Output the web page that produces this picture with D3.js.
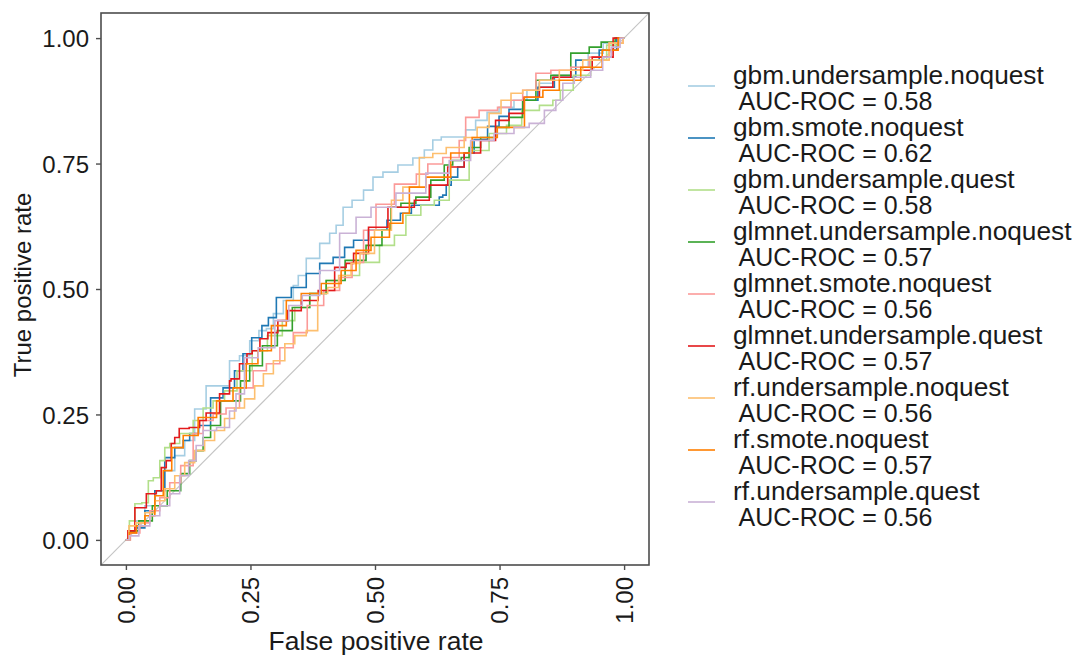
<!DOCTYPE html>
<html>
<head>
<meta charset="utf-8">
<script src="https://cdn.jsdelivr.net/npm/d3@7"></script>
<style>
  body { margin: 0; background: #fff; }
  text { font-family: "Liberation Sans", Arial, sans-serif; fill: #1a1a1a; }
</style>
</head>
<body>
<div id="chart"></div>
<script>
// models, in legend order
var modelNames = ["gbm.undersample.noquest", "gbm.smote.noquest", "gbm.undersample.quest",
  "glmnet.undersample.noquest", "glmnet.smote.noquest", "glmnet.undersample.quest",
  "rf.undersample.noquest", "rf.smote.noquest", "rf.undersample.quest"];
var aucValues = [0.58, 0.62, 0.58, 0.57, 0.56, 0.57, 0.56, 0.57, 0.56];
var axisTicks = [0, 0.25, 0.5, 0.75, 1];

// roc curves: [false positive rate, true positive rate]
var roc_gbm_undersample_noquest = [[0,0],[.014,.018],[.028,.038],[.048,.068],[.068,.098],[.088,.138],[.108,.168],[.128,.198],[.148,.261],[.174,.307],[.198,.307],[.218,.357],[.238,.367],[.259,.397],[.275,.417],[.289,.421],[.303,.451],[.329,.477],[.343,.507],[.349,.527],[.375,.561],[.403,.591],[.415,.611],[.429,.627],[.443,.663],[.465,.677],[.489,.697],[.503,.723],[.529,.733],[.563,.747],[.589,.761],[.609,.777],[.623,.797],[.643,.803],[.675,.803],[.689,.817],[.715,.836],[.735,.852],[.763,.862],[.795,.876],[.815,.896],[.842,.910],[.874,.926],[.914,.942],[.942,.970],[.974,.990],[1,1]];
var roc_gbm_smote_noquest = [[0,0],[.014,.014],[.028,.024],[.048,.058],[.068,.098],[.088,.164],[.108,.184],[.122,.198],[.134,.212],[.158,.228],[.182,.283],[.208,.303],[.228,.337],[.242,.371],[.263,.403],[.283,.427],[.289,.443],[.315,.483],[.349,.503],[.375,.531],[.403,.551],[.429,.563],[.449,.583],[.465,.597],[.509,.617],[.539,.637],[.563,.651],[.583,.667],[.629,.667],[.629,.683],[.643,.687],[.643,.707],[.663,.723],[.669,.743],[.689,.771],[.709,.798],[.743,.824],[.755,.844],[.783,.858],[.810,.876],[.844,.902],[.876,.922],[.930,.956],[.970,.976],[1,1]];
var roc_gbm_undersample_quest = [[0,0],[.014,.038],[.022,.072],[.042,.074],[.048,.118],[.062,.124],[.074,.158],[.082,.184],[.094,.192],[.122,.212],[.148,.238],[.162,.263],[.188,.277],[.208,.297],[.238,.337],[.269,.377],[.299,.407],[.329,.437],[.349,.463],[.389,.491],[.415,.517],[.449,.527],[.489,.553],[.529,.587],[.549,.607],[.575,.647],[.609,.667],[.629,.677],[.669,.717],[.709,.776],[.749,.810],[.779,.826],[.810,.856],[.850,.866],[.864,.876],[.880,.896],[.916,.926],[.950,.956],[.980,.986],[1,1]];
var roc_glmnet_undersample_noquest = [[0,0],[.014,.018],[.038,.038],[.068,.068],[.098,.098],[.122,.132],[.134,.158],[.148,.178],[.162,.204],[.178,.228],[.202,.277],[.222,.277],[.238,.317],[.259,.347],[.289,.387],[.319,.417],[.349,.463],[.389,.491],[.415,.517],[.465,.557],[.499,.587],[.529,.617],[.535,.663],[.569,.671],[.595,.683],[.629,.717],[.649,.747],[.663,.756],[.683,.762],[.695,.782],[.729,.802],[.755,.822],[.783,.842],[.810,.876],[.836,.916],[.870,.926],[.916,.970],[.944,.982],[.964,.992],[1,1]];
var roc_glmnet_smote_noquest = [[0,0],[.018,.014],[.038,.034],[.058,.058],[.078,.084],[.098,.114],[.122,.148],[.148,.212],[.162,.238],[.188,.251],[.214,.263],[.242,.303],[.269,.337],[.295,.351],[.323,.383],[.349,.413],[.379,.467],[.415,.497],[.443,.523],[.465,.553],[.489,.617],[.515,.669],[.563,.709],[.603,.729],[.609,.749],[.663,.762],[.675,.796],[.689,.842],[.729,.856],[.763,.862],[.783,.876],[.810,.896],[.836,.930],[.870,.936],[.916,.942],[.944,.962],[.996,.990],[1,1]];
var roc_glmnet_undersample_quest = [[0,0],[.008,.018],[.028,.064],[.054,.092],[.068,.098],[.074,.144],[.088,.158],[.094,.192],[.102,.204],[.112,.222],[.142,.224],[.154,.238],[.168,.253],[.208,.291],[.208,.317],[.214,.321],[.242,.351],[.244,.371],[.263,.377],[.275,.401],[.295,.413],[.315,.437],[.335,.457],[.369,.477],[.403,.497],[.435,.543],[.449,.551],[.465,.571],[.509,.623],[.543,.663],[.569,.663],[.589,.677],[.629,.707],[.663,.743],[.695,.771],[.729,.796],[.755,.836],[.783,.850],[.816,.882],[.844,.902],[.870,.922],[.916,.936],[.956,.962],[1,1]];
var roc_rf_undersample_noquest = [[0,0],[.012,.028],[.028,.034],[.048,.054],[.068,.078],[.088,.102],[.108,.128],[.128,.154],[.148,.178],[.168,.198],[.188,.218],[.208,.242],[.228,.263],[.248,.281],[.269,.307],[.283,.331],[.309,.357],[.329,.391],[.349,.407],[.375,.417],[.395,.491],[.415,.503],[.439,.527],[.465,.551],[.475,.571],[.523,.617],[.543,.677],[.569,.703],[.609,.762],[.623,.770],[.663,.782],[.695,.802],[.715,.822],[.743,.850],[.763,.876],[.783,.890],[.810,.896],[.850,.916],[.890,.936],[.944,.956],[.996,.990],[1,1]];
var roc_rf_smote_noquest = [[0,0],[.014,.014],[.028,.028],[.048,.048],[.068,.088],[.082,.138],[.102,.184],[.128,.208],[.162,.244],[.202,.277],[.228,.303],[.255,.351],[.275,.377],[.309,.427],[.335,.477],[.369,.491],[.415,.511],[.449,.537],[.475,.577],[.509,.603],[.549,.631],[.563,.651],[.575,.703],[.629,.723],[.675,.771],[.715,.802],[.776,.822],[.824,.882],[.850,.896],[.890,.916],[.936,.942],[.976,.976],[1,1]];
var roc_rf_undersample_quest = [[0,0],[.014,.008],[.038,.028],[.058,.048],[.078,.068],[.098,.092],[.118,.128],[.134,.158],[.148,.188],[.162,.218],[.202,.224],[.214,.257],[.228,.291],[.248,.363],[.283,.383],[.315,.437],[.339,.467],[.369,.487],[.409,.537],[.449,.611],[.475,.643],[.509,.663],[.575,.691],[.629,.731],[.669,.756],[.715,.796],[.763,.810],[.795,.822],[.824,.830],[.856,.856],[.870,.876],[.884,.910],[.916,.922],[.950,.936],[.964,.962],[.984,.982],[1,1]];

var curves = [roc_gbm_undersample_noquest, roc_gbm_smote_noquest, roc_gbm_undersample_quest,
  roc_glmnet_undersample_noquest, roc_glmnet_smote_noquest, roc_glmnet_undersample_quest,
  roc_rf_undersample_noquest, roc_rf_smote_noquest, roc_rf_undersample_quest];

// brewer "Paired"
var palette = ["#a6cee3", "#1f78b4", "#b2df8a", "#33a02c", "#fb9a99", "#e31a1c", "#fdbf6f", "#ff7f00", "#cab2d6"];

var svgWidth = 1075, svgHeight = 655;
var panel = {left: 101, top: 13, right: 649, bottom: 565};

var svg = d3.select("#chart").append("svg")
    .attr("width", svgWidth)
    .attr("height", svgHeight);

// ggplot style 5% expansion on both axes
var x = d3.scaleLinear().domain([-0.05, 1.05]).range([panel.left, panel.right]);
var y = d3.scaleLinear().domain([-0.05, 1.05]).range([panel.bottom, panel.top]);

svg.append("clipPath").attr("id", "clip")
  .append("rect")
    .attr("x", panel.left).attr("y", panel.top)
    .attr("width", panel.right - panel.left).attr("height", panel.bottom - panel.top);

// reference diagonal
svg.append("line")
    .attr("clip-path", "url(#clip)")
    .attr("x1", x(-0.05)).attr("y1", y(-0.05))
    .attr("x2", x(1.05)).attr("y2", y(1.05))
    .attr("stroke", "#c4c4c4")
    .attr("stroke-width", 1.1);

// curves, drawn as stairs like a roc curve (step at the midpoint so the stairs sit on the readings)
var line = d3.line()
    .curve(d3.curveStep)
    .x(d => x(d[0]))
    .y(d => y(d[1]));

svg.append("g").attr("clip-path", "url(#clip)")
  .selectAll("path")
  .data(curves)
  .enter()
  .append("path")
    .attr("d", line)
    .attr("fill", "none")
    .attr("stroke", (d, i) => palette[i])
    .attr("stroke-width", 1.6);

// panel border
svg.append("rect")
    .attr("x", panel.left).attr("y", panel.top)
    .attr("width", panel.right - panel.left).attr("height", panel.bottom - panel.top)
    .attr("fill", "none")
    .attr("stroke", "#4d4d4d")
    .attr("stroke-width", 1.6);

// axes
var xAxis = svg.append("g")
    .attr("transform", "translate(0," + panel.bottom + ")")
    .call(d3.axisBottom(x).tickValues(axisTicks).tickFormat(d3.format(".2f")).tickSize(5).tickSizeOuter(0));
xAxis.select(".domain").remove();
xAxis.selectAll("line").attr("stroke", "#4d4d4d").attr("stroke-width", 1.4);
xAxis.selectAll("text")
    .attr("fill", "#1a1a1a")
    .style("font-size", "24px")
    .attr("text-anchor", "end")
    .attr("dy", "0.35em")
    .attr("x", 0)
    .attr("y", 0)
    .attr("transform", "translate(0,12) rotate(-90)");

var yAxis = svg.append("g")
    .attr("transform", "translate(" + panel.left + ",0)")
    .call(d3.axisLeft(y).tickValues(axisTicks).tickFormat(d3.format(".2f")).tickSize(5).tickSizeOuter(0));
yAxis.select(".domain").remove();
yAxis.selectAll("line").attr("stroke", "#4d4d4d").attr("stroke-width", 1.4);
yAxis.selectAll("text")
    .attr("fill", "#1a1a1a")
    .style("font-size", "24px")
    .attr("x", -12)
    .attr("dy", "0.36em");

// axis titles
svg.append("text")
    .attr("x", (panel.left + panel.right) / 2 + 1)
    .attr("y", 650)
    .attr("text-anchor", "middle")
    .style("font-size", "26.5px")
    .text("False positive rate");

svg.append("text")
    .attr("transform", "translate(31," + ((panel.top + panel.bottom) / 2 - 4) + ") rotate(-90)")
    .attr("text-anchor", "middle")
    .style("font-size", "24px")
    .text("True positive rate");

// legend
var legend = svg.append("g").attr("transform", "translate(688,86)");
var item = legend.selectAll("g")
  .data(modelNames)
  .enter()
  .append("g")
    .attr("transform", (d, i) => "translate(0," + (i * 52) + ")");

item.append("line")
    .attr("x1", 0).attr("x2", 27)
    .attr("y1", 0).attr("y2", 0)
    .attr("stroke", (d, i) => palette[i])
    .attr("stroke-width", 1.6);

// model name line is a bit wider in the picture than plain 25px text
item.append("text")
    .attr("transform", "translate(45,-2) scale(1.05,1)")
    .style("font-size", "25px")
    .text(d => d);

item.append("text")
    .attr("x", 45).attr("y", 24)
    .style("font-size", "25px")
    .style("white-space", "pre")
    .text((d, i) => " AUC-ROC = " + aucValues[i].toFixed(2));
</script>
</body>
</html>
